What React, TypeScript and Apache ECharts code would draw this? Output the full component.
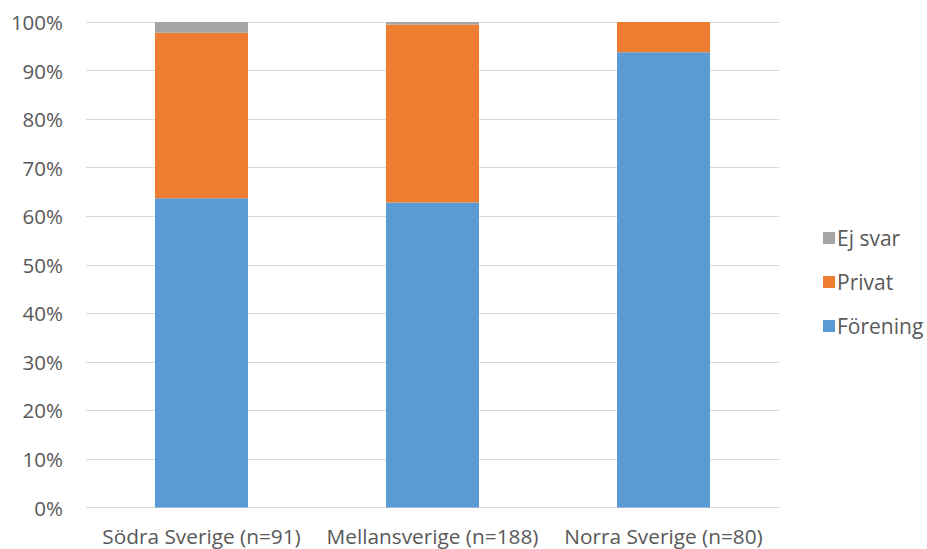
import React, { useEffect, useRef } from "react";
import * as echarts from "echarts";

const categories = ["Södra Sverige (n=91)", "Mellansverige (n=188)", "Norra Sverige (n=80)"];
const forening = [63.7, 62.8, 93.75];
const privat = [34.1, 36.7, 6.25];
const ejSvar = [2.2, 0.5, 0];

export default function App() {
  const ref = useRef<HTMLDivElement>(null);
  useEffect(() => {
    const chart = echarts.init(ref.current!, null, { renderer: "svg" });
    const font = "'Open Sans', 'Liberation Sans', sans-serif";
    chart.setOption({
      animation: false,
      textStyle: { fontFamily: font },
      grid: { left: 86, right: 148, top: 22, bottom: 41.5 },
      legend: {
        orient: "vertical",
        left: 818,
        top: 222,
        itemWidth: 12,
        itemHeight: 12,
        itemGap: 22,
        icon: "rect",
        data: ["Ej svar", "Privat", "Förening"],
        textStyle: { fontFamily: font, fontSize: 21, lineHeight: 22, color: "#595959", padding: [0, 0, 0, -3] },
      },
      xAxis: {
        type: "category",
        data: categories,
        axisLine: { lineStyle: { color: "#d9d9d9" } },
        axisTick: { show: false },
        axisLabel: { fontFamily: font, fontSize: 20.8, color: "#595959", margin: 18, interval: 0, hideOverlap: false },
      },
      yAxis: {
        type: "value",
        min: 0,
        max: 100,
        interval: 10,
        axisLine: { show: false },
        axisTick: { show: false },
        splitLine: { lineStyle: { color: "#d9d9d9", width: 1 } },
        axisLabel: { fontFamily: font, fontSize: 20.5, color: "#595959", margin: 23, formatter: "{value}%" },
      },
      series: [
        { name: "Förening", type: "bar", stack: "a", data: forening, barWidth: 93, itemStyle: { color: "#5b9bd5" } },
        { name: "Privat", type: "bar", stack: "a", data: privat, barWidth: 93, itemStyle: { color: "#ed7d31" } },
        { name: "Ej svar", type: "bar", stack: "a", data: ejSvar, barWidth: 93, itemStyle: { color: "#a5a5a5" } },
      ],
    });
    return () => chart.dispose();
  }, []);
  return <div ref={ref} style={{ position: "absolute", left: 0, top: 0, width: 927, height: 549 }} />;
}
